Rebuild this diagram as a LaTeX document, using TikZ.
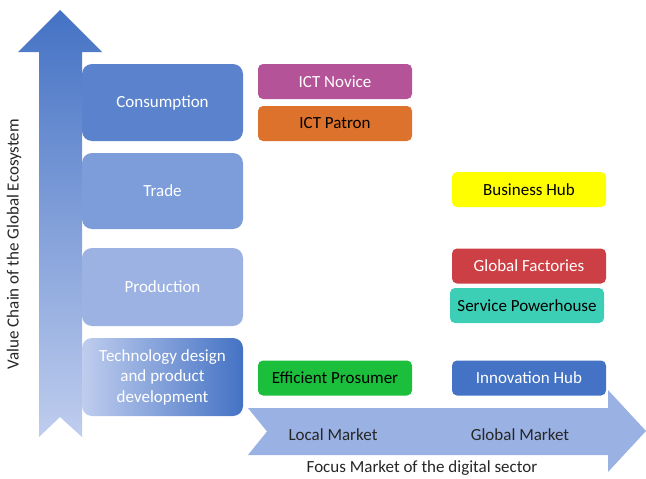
\documentclass[tikz,border=0pt]{standalone}
\usepackage{fontspec}
\setmainfont{Carlito}
\usepackage{tikz}

\definecolor{chaindark}{HTML}{4472C4}
\definecolor{chainlight}{HTML}{BFCDEE}
\definecolor{consblue}{HTML}{5B83CD}
\definecolor{tradeblue}{HTML}{7C9CDA}
\definecolor{prodblue}{HTML}{9BB2E3}
\definecolor{marketblue}{HTML}{9AB1E3}
\definecolor{novice}{HTML}{B45397}
\definecolor{patron}{HTML}{DD722C}
\definecolor{hubyellow}{HTML}{FFFF00}
\definecolor{factories}{HTML}{CC3F44}
\definecolor{powerhouse}{HTML}{3CCFB6}
\definecolor{prosumer}{HTML}{1BBF3C}

\tikzset{
  stage/.style={rectangle, rounded corners=10pt, align=center, text=white, inner sep=0pt,
    minimum width=161pt, minimum height=77pt, font=\fontsize{17}{20.5}\selectfont},
  profile/.style={rectangle, rounded corners=5pt, align=center, inner sep=0pt,
    minimum width=154pt, minimum height=35pt, font=\fontsize{17}{21}\selectfont},
  axislabel/.style={font=\fontsize{17}{21}\selectfont, text=black!85}
}

\begin{document}
\begin{tikzpicture}[x=1pt, y=-1pt]
			\useasboundingbox (0,0) rectangle (646,479);
			
			% value chain arrow
			\shade[top color=chaindark, bottom color=chainlight]
			  (60,10) -- (102,52) -- (82,52) -- (82,437) -- (60,417) -- (39,437) -- (39,52) -- (18,52) -- cycle;
			
			% market arrow
			\fill[marketblue]
			  (248,408) -- (608,408) -- (608,390) -- (646,431) -- (608,472) -- (608,455) -- (248,455) -- (267,431.5) -- cycle;
			
			% stages
			\node[stage, fill=consblue] (consumption) at (162.5,102.5) {Consumption};
			\node[stage, fill=tradeblue, minimum height=76pt] (trade) at (162.5,191) {Trade};
			\node[stage, fill=prodblue, minimum height=78pt] (production) at (162.5,287) {Production};
			\node[stage, left color=chainlight, right color=chaindark, minimum height=78pt] (techdesign) at (162.5,377) {Technology design\\and product\\development};
			
			% profiles
			\node[profile, fill=novice, text=white] (novice) at (335,81.5) {ICT Novice};
			\node[profile, fill=patron] (patron) at (335,123.5) {ICT Patron};
			\node[profile, fill=hubyellow] (businesshub) at (529,189.5) {Business Hub};
			\node[profile, fill=factories, text=white] (factories) at (529,266) {Global Factories};
			\node[profile, fill=powerhouse] (powerhouse) at (527,305.5) {Service Powerhouse};
			\node[profile, fill=prosumer] (prosumer) at (335,378) {Efficient Prosumer};
			\node[profile, fill=chaindark, text=white] (innovation) at (529,378) {Innovation Hub};
			
			% axis texts
			\node[axislabel] (local) at (333,435) {Local Market};
			\node[axislabel] (global) at (520,435) {Global Market};
			\node[axislabel] (focus) at (422,468) {Focus Market of the digital sector};
			\node[axislabel, rotate=90] (valuechain) at (14,244) {Value Chain of the Global Ecosystem};
		\end{tikzpicture}
\end{document}
